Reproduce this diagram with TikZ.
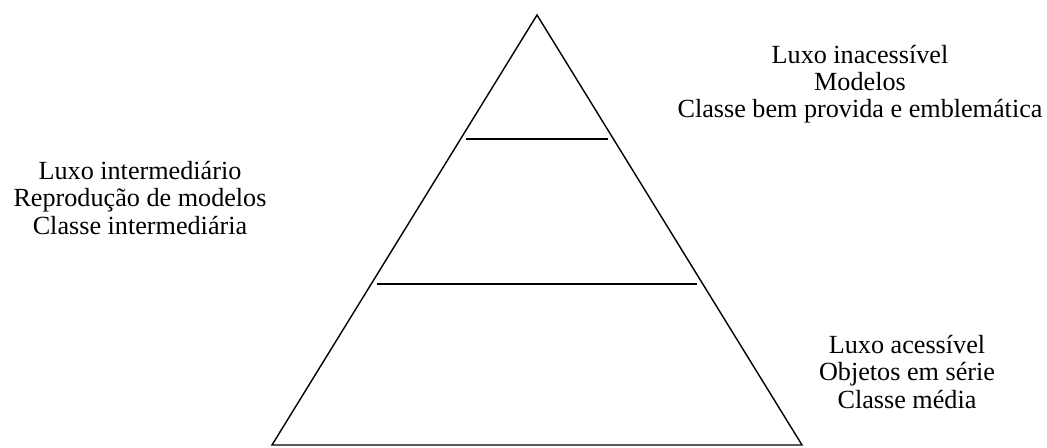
\documentclass[tikz,border=0pt]{standalone}
\usepackage{fontspec}
\setmainfont{Liberation Serif}
\usepackage{tikz}

\begin{document}
\begin{tikzpicture}[x=0.02cm,y=-0.02cm,
  label/.style={align=center,font=\fontsize{14.9}{15.4}\selectfont,inner sep=0pt}]
\useasboundingbox (0,0) rectangle (1047,448);
% Pyramid
\coordinate (apex) at (537,15);
\coordinate (bl) at (272,445);
\coordinate (br) at (802,445);
\draw[thick] (apex) -- (br) -- (bl) -- cycle;
% Levels
\coordinate (l1a) at (466,139);
\coordinate (l1b) at (608,139);
\coordinate (l2a) at (377,284);
\coordinate (l2b) at (697,284);
\draw[thick] (l1a) -- (l1b);
\draw[thick] (l2a) -- (l2b);
% Labels
\node[label] (top) at (860,84) {Luxo inacessível\\Modelos\\Classe bem provida e emblemática};
\node[label] (mid) at (140,198) {Luxo intermediário\\Reprodução de modelos\\Classe intermediária};
\node[label] (low) at (907,372) {Luxo acessível\\Objetos em série\\Classe média};
\end{tikzpicture}
\end{document}
